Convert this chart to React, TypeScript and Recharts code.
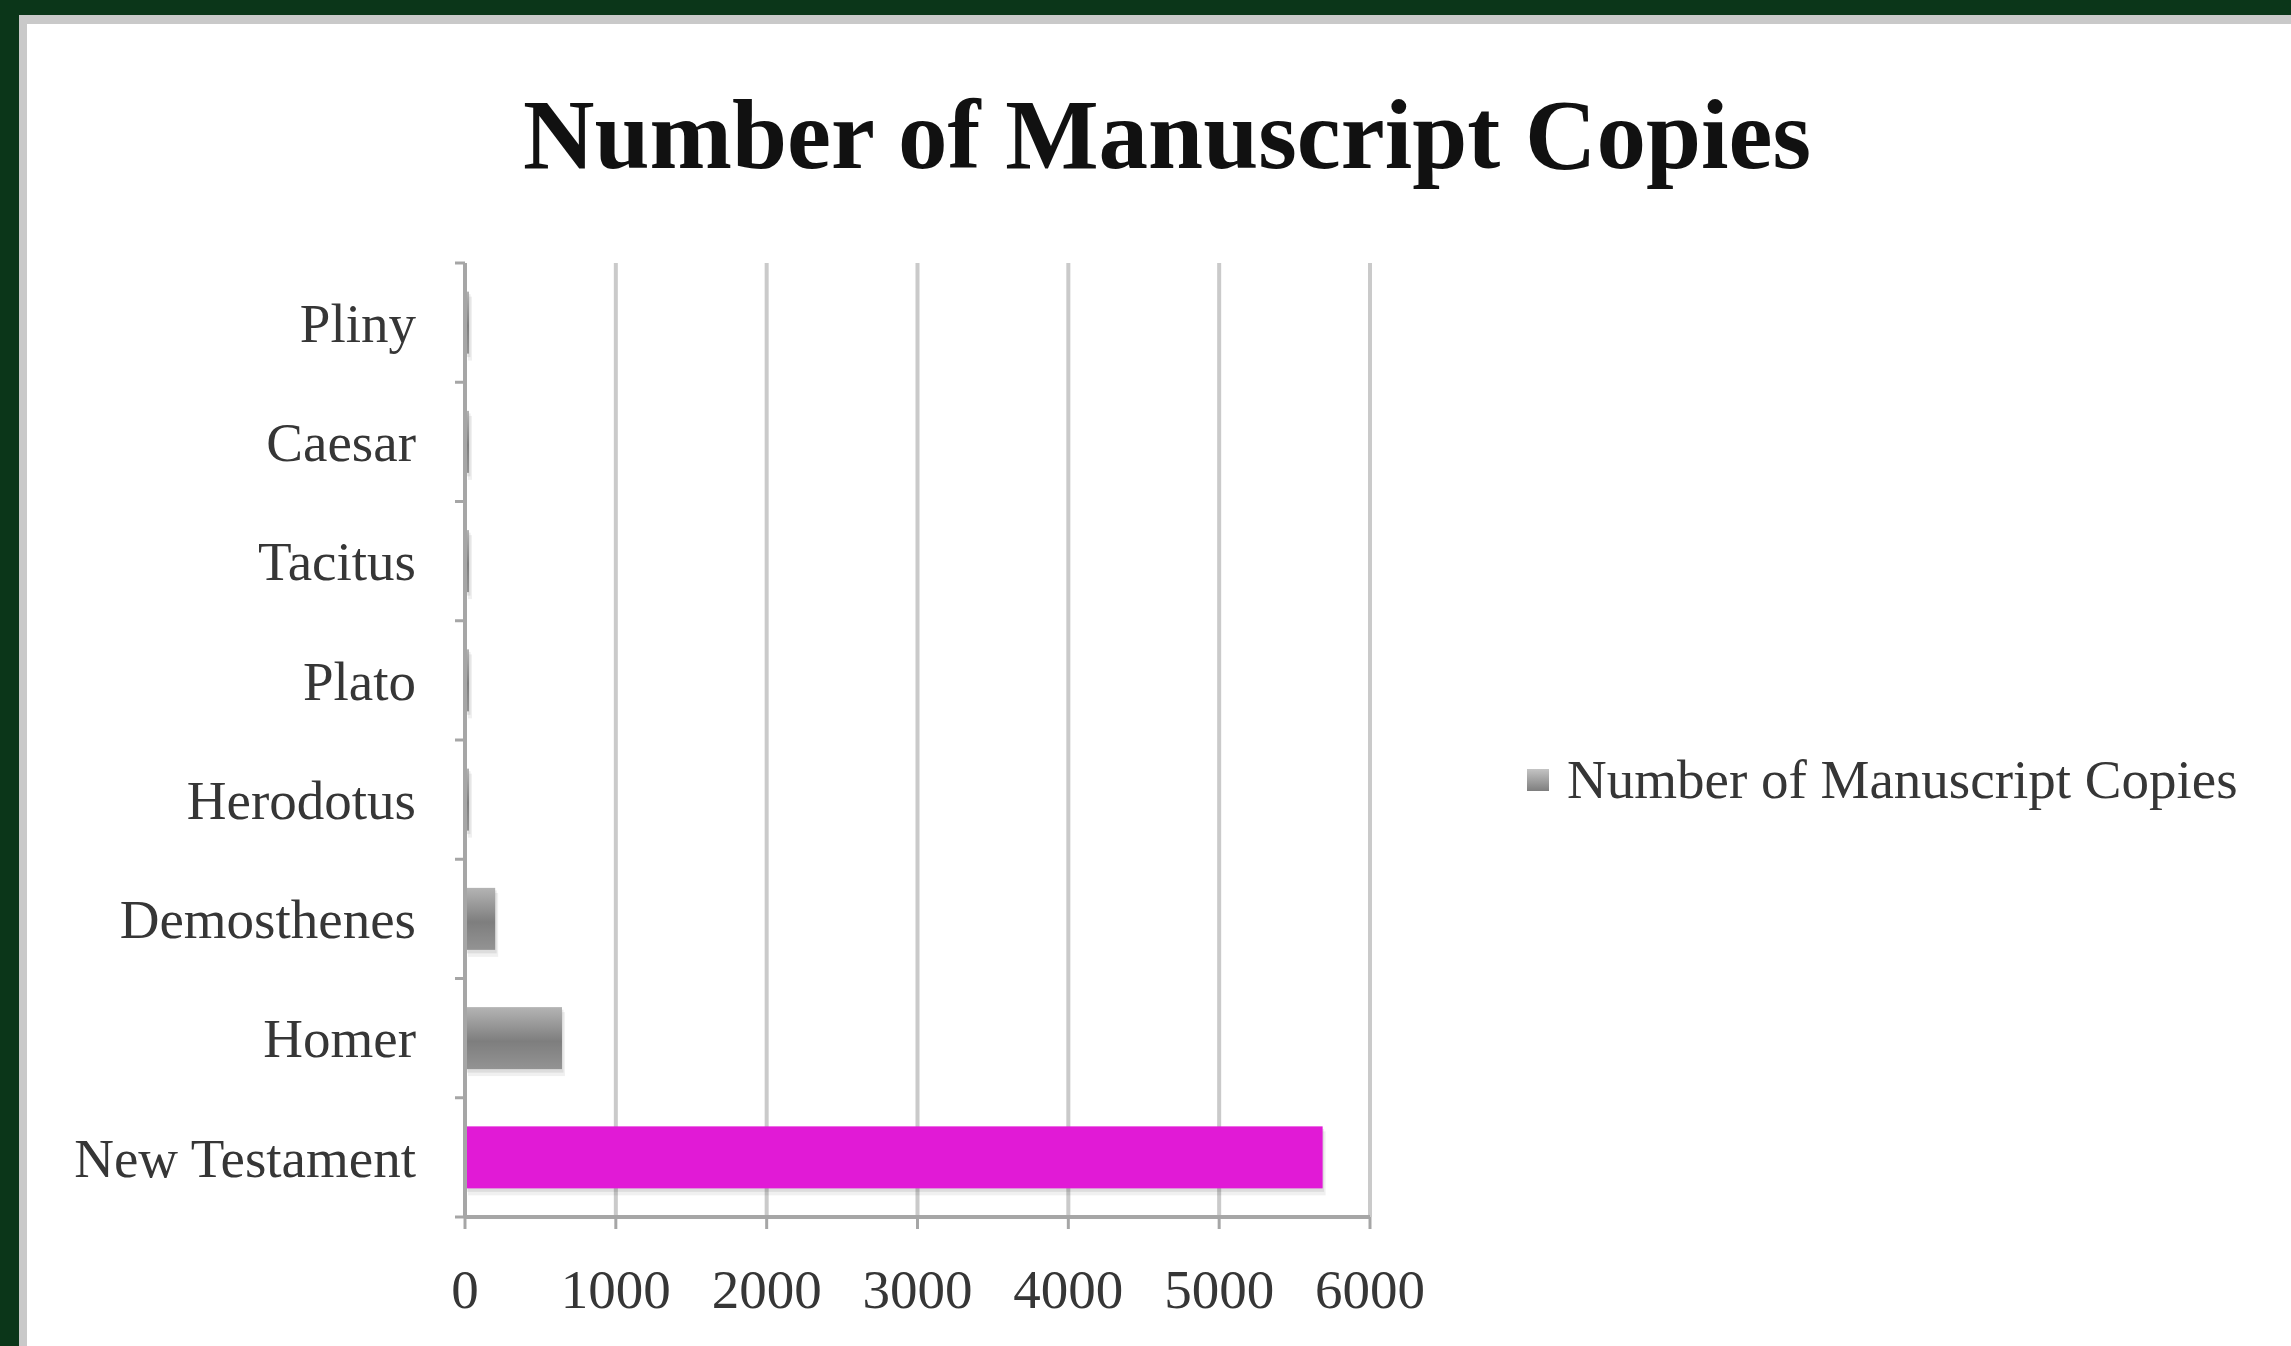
import React from "react";
import { BarChart, Bar, XAxis, YAxis, CartesianGrid, Legend } from "recharts";

const authors = ["Pliny", "Caesar", "Tacitus", "Plato", "Herodotus", "Demosthenes", "Homer", "New Testament"];
const copies = [7, 10, 20, 7, 8, 200, 643, 5686];
const xTicks = [0, 1000, 2000, 3000, 4000, 5000, 6000];
const seriesName = "Number of Manuscript Copies";

const data = authors.map((name, i) => ({ name, copies: copies[i] }));

const W = 2291;
const H = 1346;
const serif = "'Liberation Serif', 'Times New Roman', serif";
const axisColor = "#a6a6a6";
const labelColor = "#363636";
const Y_TICK_SIZE = 10;
const Y_TICK_MARGIN = 39;

const CategoryTick = (props: any) => {
  const { x, y, payload, index, visibleTicksCount } = props;
  const half = payload.offset ?? 59.6;
  const axisX = x + Y_TICK_SIZE + Y_TICK_MARGIN;
  const last = index === (visibleTicksCount ?? authors.length) - 1;
  return (
    <g>
      <line x1={axisX - Y_TICK_SIZE} x2={axisX} y1={y - half} y2={y - half} stroke={axisColor} strokeWidth={3} />
      {last && (
        <line x1={axisX - Y_TICK_SIZE} x2={axisX} y1={y + half} y2={y + half} stroke={axisColor} strokeWidth={3} />
      )}
      <text x={x} y={y} dy="0.35em" textAnchor="end" fill={labelColor} fontFamily={serif} fontSize={55}>
        {payload.value}
      </text>
    </g>
  );
};

// bar with a soft offset shadow; gray gradient for all but the highlighted bar
const ShadowBar = (props: any) => {
  const { x, y, width, height, payload } = props;
  if (width == null || height == null) return null;
  const hot = payload && payload.name === "New Testament";
  const w = Math.max(width, 4);
  return (
    <g>
      <rect x={x + 3} y={y + 5} width={w} height={height + 2} fill="#000" opacity={0.06} />
      <rect x={x + 1.5} y={y + 2.5} width={w} height={height + 1} fill="#000" opacity={0.08} />
      <rect x={x} y={y} width={w} height={height} fill={hot ? "#e11ad6" : "url(#grayBar)"} />
    </g>
  );
};

const LegendContent = () => (
  <div style={{ display: "flex", alignItems: "center", fontFamily: serif, fontSize: 55, color: labelColor }}>
    <span
      style={{
        display: "inline-block",
        width: 22,
        height: 22,
        marginRight: 18,
        background: "linear-gradient(#c4c4c4, #7e7e7e)",
      }}
    />
    <span>{seriesName}</span>
  </div>
);

export default function App() {
  return (
    <div style={{ position: "absolute", left: 0, top: 0, width: W, height: H, background: "#0b3619", overflow: "hidden" }}>
      <svg width={1} height={1} style={{ position: "absolute", left: 0, top: 0 }}>
        <defs>
          <linearGradient id="grayBar" x1="0" y1="0" x2="0" y2="1">
            <stop offset="0%" stopColor="#b4b4b4" />
            <stop offset="55%" stopColor="#7e7e7e" />
            <stop offset="100%" stopColor="#939393" />
          </linearGradient>
        </defs>
      </svg>
      <div
        style={{
          position: "absolute",
          left: 19,
          top: 15,
          right: 0,
          bottom: 0,
          background: "#fff",
          borderTop: "9px solid #c9c9c9",
          borderLeft: "8px solid #c9c9c9",
        }}
      />
      <div
        style={{
          position: "absolute",
          left: 0,
          width: 2334,
          top: 85,
          textAlign: "center",
          fontFamily: serif,
          fontWeight: "bold",
          fontSize: 99,
          lineHeight: 1,
          color: "#111",
        }}
      >
        {seriesName}
      </div>
      <div style={{ position: "absolute", left: 0, top: 0 }}>
        <BarChart
          width={W}
          height={H}
          data={data}
          layout="vertical"
          barCategoryGap="24%"
          margin={{ top: 263, right: 201, bottom: 29, left: 0 }}
        >
          <CartesianGrid horizontal={false} stroke="#cacaca" strokeWidth={4} />
          <XAxis
            type="number"
            dataKey="copies"
            domain={[0, 6000]}
            ticks={xTicks}
            height={100}
            tickSize={12}
            tickMargin={40}
            axisLine={{ stroke: axisColor, strokeWidth: 4 }}
            tickLine={{ stroke: axisColor, strokeWidth: 3 }}
            tick={{ fill: labelColor, fontFamily: serif, fontSize: 55 }}
          />
          <YAxis
            type="category"
            dataKey="name"
            width={465}
            tickSize={Y_TICK_SIZE}
            tickMargin={Y_TICK_MARGIN}
            tickLine={false}
            axisLine={{ stroke: axisColor, strokeWidth: 4 }}
            tick={<CategoryTick />}
            interval={0}
          />
          <Legend
            layout="vertical"
            align="right"
            verticalAlign="middle"
            width={720}
            wrapperStyle={{ left: 1527, top: 748 }}
            content={<LegendContent />}
          />
          <Bar dataKey="copies" name={seriesName} fill="#888" shape={<ShadowBar />} isAnimationActive={false} />
        </BarChart>
      </div>
    </div>
  );
}
